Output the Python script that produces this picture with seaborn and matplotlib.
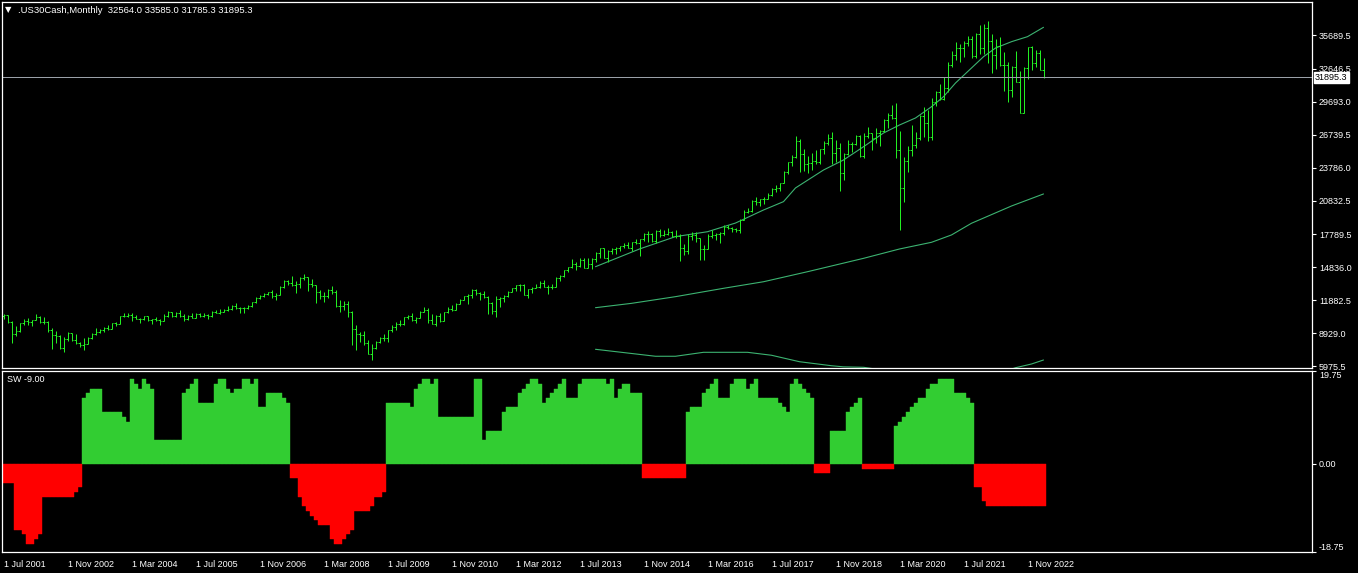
import numpy as np
import pandas as pd
import matplotlib
matplotlib.use("Agg")
import matplotlib.pyplot as plt
import matplotlib.transforms as mtrans
import seaborn as sns

# chart data (monthly bars, Jul 2001 - Mar 2023)
symbol = ".US30Cash,Monthly"
first_open = 10502.0

close = [
    10523, 9950, 8848, 9075, 9852, 10022,
    9920, 10106, 10404, 9946, 9925, 9243, 8737, 8664, 7592, 8397, 8896, 8342,
    8054, 7891, 7992, 8480, 8850, 8985, 9234, 9416, 9275, 9801, 9782, 10454,
    10488, 10584, 10358, 10226, 10188, 10435, 10140, 10174, 10080, 10027, 10428, 10783,
    10490, 10766, 10504, 10193, 10467, 10275, 10641, 10482, 10569, 10440, 10806, 10718,
    10865, 10993, 11109, 11367, 11168, 11150, 11186, 11381, 11679, 12081, 12222, 12463,
    12622, 12269, 12354, 13063, 13628, 13409, 13212, 13358, 13896, 13930, 13372, 13265,
    12650, 12266, 12263, 12820, 12638, 11350, 11378, 11544, 10851, 9325, 8829, 8776,
    8001, 7063, 7609, 8168, 8500, 8447, 9172, 9496, 9712, 9713, 10345, 10428,
    10067, 10325, 10857, 11009, 10137, 9774, 10466, 10015, 10788, 11118, 11006, 11578,
    11892, 12226, 12320, 12811, 12570, 12414, 12143, 11614, 10913, 11955, 12046, 12218,
    12633, 12952, 13212, 13214, 12393, 12880, 13009, 13091, 13437, 13096, 13026, 13104,
    13861, 14054, 14579, 14840, 15116, 14910, 15500, 14810, 15130, 15546, 16086, 16577,
    15699, 16322, 16458, 16581, 16717, 16827, 16563, 17098, 17043, 17391, 17828, 17823,
    17165, 18133, 17776, 17841, 18011, 17620, 17690, 16528, 16285, 17664, 17720, 17425,
    16466, 16517, 17685, 17774, 17787, 17930, 18432, 18401, 18308, 18142, 19124, 19763,
    19864, 20812, 20663, 20941, 21009, 21350, 21891, 21948, 22405, 23377, 24272, 24719,
    26149, 25029, 24103, 24163, 24416, 24271, 25415, 25965, 26458, 25116, 25538, 23327,
    24999, 25916, 25929, 26593, 24815, 26600, 26864, 26403, 26917, 27046, 28051, 28538,
    28256, 25409, 21917, 24346, 25383, 25813, 26428, 28430, 27782, 26502, 29638, 30606,
    29983, 30932, 32982, 33875, 34529, 34503, 34935, 35361, 33844, 35820, 34484, 36338,
    35132, 33893, 34678, 32977, 32990, 30775, 32845, 31510, 28726, 32733, 34590, 33147,
    34086, 32564.0, 31895.3,
]

high = [
    10610, 10550, 9990, 9590, 9875, 10180,
    10260, 10140, 10670, 10460, 10360, 10000, 9410, 9080, 8740, 8540, 9040, 8960,
    8870, 8110, 8520, 8540, 8900, 9350, 9340, 9470, 9690, 9840, 9890, 10460,
    10740, 10750, 10690, 10570, 10320, 10480, 10480, 10210, 10350, 10230, 10600, 10870,
    10850, 10840, 10980, 10620, 10540, 10720, 10720, 10700, 10700, 10600, 10940, 10990,
    11050, 11130, 11340, 11420, 11670, 11260, 11240, 11420, 11720, 12170, 12340, 12530,
    12660, 12790, 12500, 13150, 13690, 13690, 14020, 13600, 14000, 14200, 13950, 13780,
    13280, 12770, 12620, 12900, 13140, 12760, 11900, 11810, 11790, 10880, 9650, 9030,
    9090, 8320, 7950, 8220, 8600, 8880, 9200, 9630, 9920, 10120, 10400, 10580,
    10730, 10410, 10900, 11260, 11210, 10600, 10590, 10720, 10830, 11250, 11450, 11600,
    11990, 12300, 12420, 12870, 12880, 12620, 12750, 12300, 11720, 12280, 12190, 12360,
    12720, 13000, 13290, 13340, 13340, 12900, 13100, 13330, 13650, 13660, 13290, 13310,
    13970, 14150, 14590, 14890, 15540, 15340, 15640, 15660, 15710, 15680, 16170, 16590,
    16590, 16400, 16590, 16630, 16740, 16980, 17150, 17120, 17350, 17400, 17900, 18100,
    17950, 18170, 18290, 18180, 18350, 18100, 18140, 17800, 16930, 17800, 17980, 17980,
    17450, 16800, 17790, 18170, 17900, 18020, 18620, 18670, 18450, 18400, 19150, 19990,
    20130, 20890, 21170, 21010, 21110, 21540, 21930, 22180, 22420, 23490, 24330, 24880,
    26620, 26310, 25450, 24860, 25090, 25400, 25470, 26170, 26770, 26950, 26280, 25980,
    25100, 26240, 26110, 26700, 26700, 26910, 27400, 26900, 27310, 27120, 28170, 28700,
    29370, 29570, 27100, 24760, 25760, 27580, 27000, 28500, 29200, 28960, 30000, 30640,
    31270, 31960, 33260, 34260, 35090, 34850, 35170, 35630, 35630, 35890, 36570, 36680,
    36950, 35820, 35370, 35490, 34120, 33270, 32910, 34280, 32500, 32860, 34600, 34710,
    34340, 34330, 33585.0,
]

low = [
    10175, 9830, 8062, 8660, 9040, 9700,
    9700, 9530, 10090, 9820, 9790, 9070, 7530, 8040, 7520, 7200, 8240, 8220,
    7990, 7660, 7420, 7950, 8370, 8790, 8930, 9000, 9250, 9300, 9540, 9750,
    10400, 10400, 10000, 10200, 9850, 10140, 9990, 9780, 10000, 9700, 10010, 10380,
    10360, 10400, 10400, 10010, 10080, 10240, 10260, 10400, 10370, 10160, 10400, 10700,
    10650, 10780, 10900, 11000, 11080, 10700, 10700, 11050, 11300, 11650, 11980, 12150,
    12330, 12050, 11940, 12350, 12950, 13250, 13200, 12520, 13000, 13700, 12720, 13030,
    11630, 12030, 11730, 12050, 12450, 11300, 10830, 11030, 10360, 7880, 7450, 8150,
    7900, 7030, 6470, 7490, 8030, 8220, 8090, 9070, 9250, 9600, 9670, 10230,
    10030, 9840, 10320, 10800, 9870, 9750, 9610, 9930, 10000, 10700, 10930, 11000,
    11550, 11890, 11550, 12080, 12310, 11860, 12090, 10600, 10600, 10400, 11230, 11730,
    12200, 12620, 12750, 12710, 12360, 12040, 12490, 12990, 13020, 13050, 12470, 12880,
    13100, 13650, 14000, 14440, 14760, 14550, 14900, 14760, 14780, 14720, 15330, 15700,
    15690, 15340, 16000, 16010, 16330, 16600, 16550, 16330, 16950, 15850, 17170, 17070,
    17140, 17040, 17580, 17630, 17750, 17580, 17450, 15370, 15940, 16010, 17250, 17140,
    15450, 15500, 16500, 17480, 17330, 17060, 17710, 18300, 17990, 17960, 17880, 19050,
    19680, 19830, 20410, 20380, 20550, 21000, 21270, 21600, 21710, 22400, 23240, 23920,
    24660, 23360, 23510, 23340, 23530, 24080, 24080, 25000, 25800, 24120, 24270, 21710,
    22640, 24900, 25210, 25850, 24700, 24680, 26470, 25340, 25980, 25740, 27000, 27330,
    28170, 24680, 18210, 20730, 23360, 24840, 25520, 26300, 26540, 26140, 26250, 29290,
    29860, 29850, 30550, 32790, 33470, 33270, 33740, 34680, 33610, 33600, 34000, 34000,
    33150, 32270, 32630, 32910, 30640, 29650, 30140, 31500, 28720, 28660, 31730, 32570,
    32810, 32540, 31785.3,
]

# SW indicator values, one per month
sw = [
    -4, -4, -4, -14, -14, -15,
    -17, -17, -16, -15, -7, -7, -7, -7, -7, -7, -7, -7,
    -6, -5, 14, 15, 16, 16, 16, 11, 11, 11, 11, 11,
    10, 9, 18, 17, 16, 18, 17, 16, 5, 5, 5, 5,
    5, 5, 5, 15, 16, 17, 18, 13, 13, 13, 13, 17,
    18, 18, 16, 15, 16, 16, 18, 18, 17, 18, 12, 12,
    15, 15, 15, 15, 14, 13, -3, -3, -7, -9, -10, -11,
    -12, -13, -13, -13, -16, -17, -17, -16, -15, -14, -10, -10,
    -10, -10, -9, -7, -7, -6, 13, 13, 13, 13, 13, 13,
    12, 16, 17, 18, 18, 17, 18, 10, 10, 10, 10, 10,
    10, 10, 10, 10, 18, 18, 5, 7, 7, 7, 7, 11,
    12, 12, 12, 15, 16, 17, 18, 18, 17, 13, 14, 15,
    16, 17, 18, 14, 14, 14, 17, 18, 18, 18, 18, 18,
    18, 17, 18, 14, 16, 17, 17, 15, 15, 15, -3, -3,
    -3, -3, -3, -3, -3, -3, -3, -3, -3, 11, 12, 12,
    12, 15, 16, 17, 18, 14, 14, 14, 17, 18, 18, 18,
    16, 17, 18, 14, 14, 14, 14, 14, 13, 12, 11, 17,
    18, 17, 16, 15, 14, -2, -2, -2, -2, 7, 7, 7,
    7, 11, 12, 13, 14, -1, -1, -1, -1, -1, -1, -1,
    -1, 8, 9, 10, 11, 12, 13, 14, 14, 16, 17, 17,
    18, 18, 18, 18, 15, 15, 15, 14, 13, -5, -5, -8,
    -9, -9, -9, -9, -9, -9, -9, -9, -9, -9, -9, -9,
    -9, -9, -9,
]

# moving average / band lines drawn on the price chart
ma_fast_dates = ["2013-11", "2014-10", "2015-07", "2016-03", "2016-10", "2017-05",
                 "2017-10", "2018-01", "2018-08", "2019-01", "2019-06", "2019-11",
                 "2020-03", "2020-07", "2020-11", "2021-02", "2021-05", "2021-08",
                 "2021-12", "2022-03", "2022-07", "2022-11", "2023-03"]
ma_fast = [14890, 16480, 17590, 18030, 18810, 19980, 20730, 21960, 23570, 24470,
           25660, 26890, 27610, 28240, 29250, 30150, 31380, 32390, 33740, 34520,
           35090, 35540, 36380]

ma_slow_dates = ["2013-11", "2014-08", "2015-07", "2016-07", "2017-05", "2018-04",
                 "2019-06", "2020-03", "2020-11", "2021-04", "2021-09", "2022-07",
                 "2023-03"]
ma_slow = [11210, 11600, 12200, 12950, 13540, 14440, 15640, 16480, 17080, 17740,
           18790, 20340, 21420]

band_a_dates = ["2013-11", "2015-02", "2015-07", "2016-02", "2017-01", "2017-07",
                "2018-02", "2018-10", "2019-01", "2019-06", "2019-09"]
band_a = [7475, 6850, 6850, 7205, 7205, 6940, 6360, 6000, 5900, 5860, 5700]
band_b_dates = ["2022-07", "2022-08", "2022-12", "2023-03"]
band_b = [5700, 5820, 6155, 6515]

price_ticks = [35689.5, 32646.5, 29693.0, 26739.5, 23786.0, 20832.5,
               17789.5, 14836.0, 11882.5, 8929.0, 5975.5]
time_labels = ["1 Jul 2001", "1 Nov 2002", "1 Mar 2004", "1 Jul 2005", "1 Nov 2006",
               "1 Mar 2008", "1 Jul 2009", "1 Nov 2010", "1 Mar 2012", "1 Jul 2013",
               "1 Nov 2014", "1 Mar 2016", "1 Jul 2017", "1 Nov 2018", "1 Mar 2020",
               "1 Jul 2021", "1 Nov 2022"]

# build tables
months = pd.date_range("2001-07-01", periods=len(close), freq="MS")
bars = pd.DataFrame({"month": months, "close": close, "high": high, "low": low})
bars["open"] = [first_open] + close[:-1]
bars["k"] = np.arange(len(bars))
bars["sw"] = sw
bars["side"] = np.where(bars["sw"] >= 0, "up", "down")


def line_frame(dates, values, name):
    pos = months.get_indexer(pd.to_datetime(dates))
    return pd.DataFrame({"k": pos, "value": values, "segment": name})


lines = pd.concat([
    line_frame(ma_fast_dates, ma_fast, "fast"),
    line_frame(ma_slow_dates, ma_slow, "slow"),
    line_frame(band_a_dates, band_a, "band_a"),
    line_frame(band_b_dates, band_b, "band_b"),
], ignore_index=True)

# style
sns.set_theme(style="dark", rc={
    "axes.facecolor": "black", "figure.facecolor": "black",
    "axes.edgecolor": "white", "axes.grid": False,
    "text.color": "white", "xtick.color": "white", "ytick.color": "white",
})
plt.rcParams["font.family"] = ["Liberation Sans", "DejaVu Sans"]

W, H = 1358, 573
fig = plt.figure(figsize=(W / 100, H / 100), dpi=100)


def px_axes(left, top, right, bottom):
    return fig.add_axes([left / W, 1 - bottom / H, (right - left) / W, (bottom - top) / H])


ax = px_axes(2, 2, 1312, 368)
ax2 = px_axes(2, 371, 1312, 552)
# 4 px per month; month centres fall on pixel centres
xlim = (-0.375, 327.125)

bar_color = "#22ee22"
line_color = "#3cb371"
px = 0.72  # one pixel in points

# price panel
sns.lineplot(data=lines, x="k", y="value", units="segment", estimator=None,
             color=line_color, linewidth=0.8, ax=ax)
ax.vlines(bars["k"], bars["low"], bars["high"], color=bar_color, linewidth=px)
ax.hlines(bars["open"], bars["k"] - 0.375, bars["k"], color=bar_color, linewidth=px)
ax.hlines(bars["close"], bars["k"], bars["k"] + 0.375, color=bar_color, linewidth=px)

last_close = close[-1]
ax.axhline(last_close, color="#9aa0a8", linewidth=px)
ax.set_xlim(*xlim)
ax.set_ylim(5796, 38652)
ax.set_xticks([])
ax.yaxis.tick_right()
ax.set_yticks(price_ticks, labels=[f"{v:.1f}" for v in price_ticks])
ax.tick_params(axis="y", length=3, width=0.8, pad=2, labelsize=6.5, colors="white")
ax.set_xlabel("")
ax.set_ylabel("")
for s in ax.spines.values():
    s.set_color("white")
    s.set_linewidth(0.9)

trans = mtrans.blended_transform_factory(ax.transAxes, ax.transData)
ax.text(1.0 + 3 / 1310, last_close, f"{last_close:.1f}", transform=trans,
        ha="left", va="center", fontsize=6.5, color="black", zorder=10, clip_on=False,
        bbox=dict(boxstyle="square,pad=0.12", fc="white", ec="white"))

# indicator panel
sns.barplot(data=bars, x="k", y="sw", hue="side",
            palette={"up": "#32cd32", "down": "#ff0000"},
            width=1.0, dodge=False, saturation=1, errorbar=None,
            legend=False, linewidth=0, ax=ax2)
for p in ax2.patches:
    p.set_edgecolor(p.get_facecolor())
    p.set_linewidth(0.3)

ax2.set_xlim(*xlim)
ax2.set_ylim(-18.75, 19.75)
ax2.yaxis.tick_right()
ax2.set_yticks([19.75, 0, -18.75], labels=["19.75", "0.00", "-18.75"])
ax2.tick_params(axis="y", length=3, width=0.8, pad=2, labelsize=6.5, colors="white")
ylabels = ax2.get_yticklabels()
ylabels[0].set_verticalalignment("top")
ylabels[2].set_verticalalignment("bottom")

tick_pos = months.get_indexer(pd.to_datetime(time_labels, format="%d %b %Y"))
ax2.set_xticks(tick_pos, labels=time_labels)
ax2.tick_params(axis="x", length=3, width=0.8, pad=3, labelsize=6.5, colors="white")
for lab in ax2.get_xticklabels():
    lab.set_horizontalalignment("left")
ax2.set_xlabel("")
ax2.set_ylabel("")
for s in ax2.spines.values():
    s.set_color("white")
    s.set_linewidth(0.9)

# header texts
fig.text(5 / W, 1 - 10 / H, "\u25bc", fontsize=6, family="DejaVu Sans",
         color="white", va="center", ha="left")
header = (f"{symbol}  {bars['open'].iloc[-1]:.1f} {high[-1]:.1f} "
          f"{low[-1]:.1f} {close[-1]:.1f}")
fig.text(18 / W, 1 - 10.5 / H, header, fontsize=6.8, color="white", va="center", ha="left")
fig.text(7 / W, 1 - 379.5 / H, f"SW {sw[-1]:.2f}", fontsize=6.5, color="white",
         va="center", ha="left")

fig.savefig("out.png", dpi=100, facecolor="black")
